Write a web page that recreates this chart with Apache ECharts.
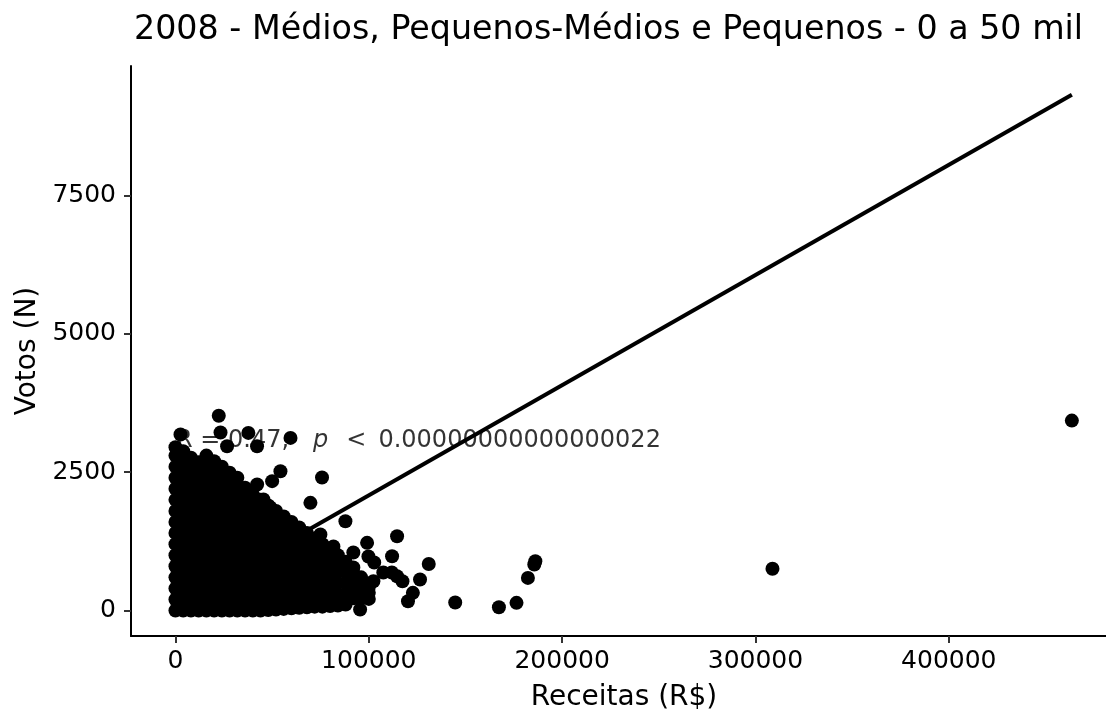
<!DOCTYPE html>
<html>
<head>
<meta charset="utf-8">
<script src="https://cdn.jsdelivr.net/npm/echarts@6/dist/echarts.min.js"></script>
<style>
  html, body { margin: 0; padding: 0; background: #fff; }
  #grafico { width: 1106px; height: 712px; }
</style>
</head>
<body>
<div id="grafico"></div>
<script>
const titulo = '2008 - Médios, Pequenos-Médios e Pequenos - 0 a 50 mil';
const ticksReceita = [0, 100000, 200000, 300000, 400000];
const ticksVotos = [0, 2500, 5000, 7500];

// núcleo denso: cada coluna de receita com os votos dos pontos sobrepostos
const colunasReceita = [0, 4000, 8000, 12000, 16000, 20000, 24000, 28000, 32000, 36000, 40000, 44000, 48000,
    52000, 56000, 60000, 64000, 68000, 72000, 76000, 80000, 84000, 88000, 92000, 96000, 100000];
const colunasVotos = [
    [0, 200, 400, 600, 800, 1000, 1200, 1400, 1600, 1800, 2000, 2200, 2400, 2600, 2800, 2950],
    [0, 110, 300, 510, 700, 890, 1100, 1310, 1500, 1690, 1900, 2110, 2300, 2500, 2700, 2880],
    [0, 190, 400, 590, 800, 990, 1210, 1400, 1610, 1790, 2000, 2210, 2400, 2600, 2760],
    [0, 100, 310, 500, 690, 900, 1100, 1290, 1500, 1710, 1900, 2100, 2300, 2500, 2680],
    [0, 210, 400, 600, 790, 1000, 1200, 1410, 1600, 1800, 1990, 2200, 2410, 2600, 2800],
    [0, 110, 300, 500, 710, 900, 1100, 1300, 1490, 1700, 1910, 2100, 2300, 2500, 2700],
    [0, 200, 400, 610, 800, 990, 1200, 1400, 1610, 1800, 2000, 2210, 2400, 2600],
    [0, 100, 290, 500, 700, 900, 1110, 1300, 1500, 1700, 1900, 2100, 2300, 2490],
    [0, 200, 410, 590, 810, 1000, 1190, 1400, 1600, 1790, 2000, 2200, 2400],
    [0, 110, 300, 500, 700, 910, 1100, 1300, 1510, 1700, 1900, 2100, 2220],
    [0, 200, 390, 610, 800, 1000, 1190, 1400, 1610, 1800, 2000, 2100],
    [0, 100, 300, 510, 700, 900, 1100, 1290, 1500, 1700, 1900, 2000],
    [10, 190, 410, 600, 800, 1000, 1210, 1390, 1600, 1800, 1900],
    [20, 120, 300, 500, 690, 900, 1100, 1300, 1500, 1700, 1800],
    [30, 210, 390, 600, 790, 1000, 1190, 1410, 1600, 1700],
    [40, 110, 300, 510, 700, 900, 1110, 1300, 1500, 1600],
    [50, 200, 410, 600, 800, 1000, 1200, 1400, 1500],
    [60, 120, 300, 500, 710, 900, 1100, 1300, 1400],
    [70, 210, 400, 600, 800, 1010, 1200, 1300],
    [70, 130, 300, 490, 700, 900, 1100, 1200],
    [80, 270, 410, 610, 800, 1000, 1100],
    [90, 160, 300, 500, 710, 900, 1000],
    [110, 300, 500, 700, 880],
    [220, 310, 500, 680, 780],
    [230, 420, 600],
    [210, 320, 420]
];

// pontos dispersos fora do núcleo
const pontosDispersos = [
    [22400, 3520], [2600, 3180], [23300, 3216], [37700, 3210], [59500, 3120], [42200, 2970], [26700, 2970],
    [54300, 2518], [75800, 2404], [50000, 2338], [42240, 2278], [45500, 2007], [49100, 1862], [69800, 1946],
    [87900, 1614], [74970, 1374], [81700, 1157], [92000, 1048], [99800, 976], [99120, 1223], [114630, 1343],
    [112040, 981], [102800, 868], [107500, 687], [111900, 687], [114600, 620], [117400, 530], [102380, 530],
    [131000, 840], [126500, 560], [122800, 320], [120270, 168], [95500, 349], [95500, 18], [144700, 145],
    [167300, 60], [176400, 139], [182300, 590], [185600, 831], [186140, 891], [308800, 756], [463650, 3432]
];

// reta de regressão (extremos)
const retaReceita = [0, 463650];
const retaVotos = [92, 9321];

const anotacaoPos = [0, 3060];

const pontos = [];
colunasReceita.forEach((x, i) => {
    colunasVotos[i].forEach(y => pontos.push([x, y]));
});
pontosDispersos.forEach(p => pontos.push(p));

const fonte = 'DejaVu Sans';

const charts = echarts.init(document.getElementById('grafico'));
charts.setOption({
    backgroundColor: '#fff',
    animation: false,
    title: {
        text: titulo,
        left: 129,
        top: 9,
        textStyle: {
            color: '#000',
            fontSize: 33.3,
            fontWeight: 'normal',
            fontFamily: fonte,
        }
    },
    grid: {
        left: 131,
        top: 66,
        right: -11,
        bottom: 76,
        containLabel: false,
        outerBoundsMode: 'none',
    },
    xAxis: {
        type: 'value',
        min: -23000,
        max: 487000,
        name: 'Receitas (R$)',
        nameLocation: 'middle',
        nameGap: 48,
        nameTextStyle: { color: '#000', fontSize: 28, fontFamily: fonte },
        splitLine: { show: false },
        axisLine: { show: true, onZero: false, lineStyle: { color: '#000', width: 2 } },
        axisTick: { show: true, length: 7, customValues: ticksReceita, lineStyle: { color: '#333', width: 2 } },
        axisLabel: {
            customValues: ticksReceita,
            margin: 13,
            color: '#000',
            fontSize: 25,
            fontFamily: fonte,
            formatter: v => String(v),
        },
    },
    yAxis: {
        type: 'value',
        min: -460,
        max: 9840,
        name: 'Votos (N)',
        nameLocation: 'middle',
        nameGap: 88,
        nameTextStyle: { color: '#000', fontSize: 28, fontFamily: fonte },
        splitLine: { show: false },
        axisLine: { show: true, onZero: false, lineStyle: { color: '#000', width: 2 } },
        axisTick: { show: true, length: 7, customValues: ticksVotos, lineStyle: { color: '#333', width: 2 } },
        axisLabel: {
            customValues: ticksVotos,
            margin: 15,
            color: '#000',
            fontSize: 25,
            fontFamily: fonte,
            formatter: v => String(v),
        },
    },
    series: [
        {
            type: 'scatter',
            data: pontos,
            symbolSize: 14,
            itemStyle: { color: '#000', opacity: 1, borderWidth: 0 },
            silent: true,
        },
        {
            type: 'line',
            data: retaReceita.map((x, i) => [x, retaVotos[i]]),
            showSymbol: false,
            symbol: 'none',
            lineStyle: { color: '#000', width: 4 },
            silent: true,
        },
        {
            type: 'scatter',
            data: [anotacaoPos],
            symbolSize: 1,
            itemStyle: { color: 'rgba(0,0,0,0)' },
            silent: true,
            label: {
                show: true,
                position: 'right',
                distance: 0,
                formatter: '{a|R = 0.47,}{p|p}{b|<}{c|0.00000000000000022}',
                rich: {
                    a: { color: '#000', fontSize: 24, fontFamily: fonte },
                    p: { color: '#000', fontSize: 24, fontFamily: fonte, fontStyle: 'italic', padding: [0, 0, 0, 24] },
                    b: { color: '#000', fontSize: 24, fontFamily: fonte, padding: [0, 0, 0, 18] },
                    c: { color: '#000', fontSize: 24, fontFamily: fonte, padding: [0, 0, 0, 12] },
                },
            },
        }
    ]
});
</script>
</body>
</html>
